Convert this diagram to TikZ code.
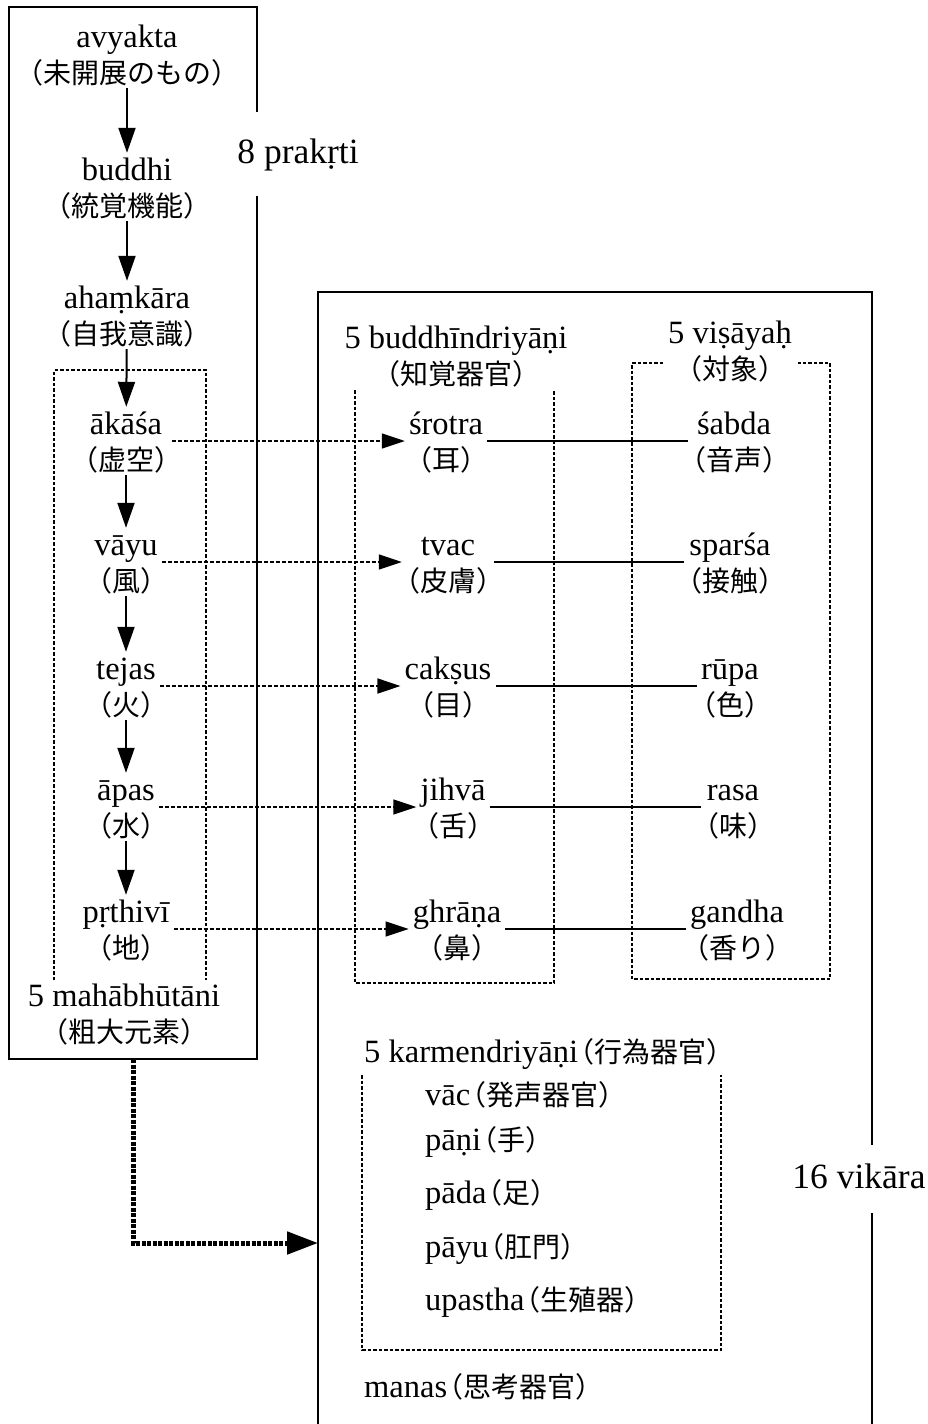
\documentclass[tikz,border=0pt]{standalone}
\usepackage{fontspec}
\setmainfont{Liberation Serif}
\newfontfamily\jp{Noto Sans CJK JP}[RawFeature=+halt]
\usetikzlibrary{arrows.meta}

% Latin text size, Japanese gloss size, and struts that fix the node heights
\newcommand\lat{\fontsize{32.5}{36}\selectfont}
\newcommand\jpx[1]{{\jp\fontsize{28}{36}\selectfont\rule[-4pt]{0pt}{4pt}#1}}
% gloss written straight after a Latin word, on the same line
\newcommand\jpafter[1]{\kern2pt\jpx{#1}}
\newcommand\lstrut{\rule{0pt}{26pt}}

\tikzset{
  frame/.style={line width=1.8pt},
  dotbox/.style={line width=1.3pt, dash pattern=on 3.5pt off 2pt},
  flow/.style={line width=2pt, -{Triangle[length=25pt,width=17pt]}},
  senseline/.style={line width=1.4pt, dash pattern=on 4pt off 2pt,
    -{Triangle[length=23pt,width=15pt]}},
  pairline/.style={line width=1.8pt},
  bigflow/.style={line width=5pt, dash pattern=on 4pt off 1.5pt,
    -{Triangle[length=31pt,width=22pt]}},
  item/.style={align=center, inner xsep=4pt, inner ysep=1pt, font=\lat},
  entry/.style={anchor=base west, inner sep=0pt, font=\lat},
  biglabel/.style={anchor=base, inner sep=0pt, font=\fontsize{35.5}{40}\selectfont},
}

\begin{document}
\begin{tikzpicture}[x=1pt,y=-1pt]
\useasboundingbox (0,0) rectangle (928,1424);

% ---- outer frames ----
\draw[frame] (257,112) -- (257,7) -- (9,7) -- (9,1059) -- (257,1059) -- (257,196);
\draw[frame] (318,1424) -- (318,292) -- (872,292) -- (872,1145);
\draw[frame] (872,1213) -- (872,1424);
\node[biglabel] (prakrti) at (298,163) {8 prakṛti};
\node[biglabel] (vikara) at (859,1188) {16 vikāra};

% ---- dotted groups ----
\draw[dotbox] (54,980) -- (54,370) -- (206,370) -- (206,980);
\draw[dotbox] (355,390) -- (355,983) -- (554,983) -- (554,390);
\draw[dotbox] (663,363) -- (632,363) -- (632,979) -- (830,979) -- (830,363) -- (798,363);
\draw[dotbox] (362,1075) -- (362,1350) -- (721,1350) -- (721,1075);

% ---- evolution chain ----
\node[item] (avyakta)  at (127,54)  {\lstrut avyakta\\\jpx{（未開展のもの）}};
\node[item] (buddhi)   at (127,187) {\lstrut buddhi\\\jpx{（統覚機能）}};
\node[item] (ahamkara) at (127,315) {\lstrut ahaṃkāra\\\jpx{（自我意識）}};
\node[item] (akasa)    at (126,441) {\lstrut ākāśa\\\jpx{（虚空）}};
\node[item] (vayu)     at (126,562) {\lstrut vāyu\\\jpx{（風）}};
\node[item] (tejas)    at (126,686) {\lstrut tejas\\\jpx{（火）}};
\node[item] (apas)     at (126,807) {\lstrut āpas\\\jpx{（水）}};
\node[item] (prthivi)  at (126,929) {\lstrut pṛthivī\\\jpx{（地）}};
\node[item] (bhuta)    at (124,1015) {5 mahābhūtāni\\\jpx{（粗大元素）}};

\draw[flow] (avyakta) -- (buddhi);
\draw[flow] (buddhi) -- (ahamkara);
\draw[flow] (ahamkara) -- (akasa);
\draw[flow] (akasa) -- (vayu);
\draw[flow] (vayu) -- (tejas);
\draw[flow] (tejas) -- (apas);
\draw[flow] (apas) -- (prthivi);

% ---- sense organs and their objects ----
\node[item] (indriya) at (456,357) {5 buddhīndriyāṇi\\\jpx{（知覚器官）}};
\node[item] (visaya)  at (730,352) {5 viṣāyaḥ\\\jpx{（対象）}};

\node[item] (srotra) at (446,441) {\lstrut śrotra\\\jpx{（耳）}};
\node[item] (tvac)   at (448,562) {\lstrut tvac\\\jpx{（皮膚）}};
\node[item] (caksus) at (448,686) {\lstrut cakṣus\\\jpx{（目）}};
\node[item] (jihva)  at (453,807) {\lstrut jihvā\\\jpx{（舌）}};
\node[item] (ghrana) at (457,929) {\lstrut ghrāṇa\\\jpx{（鼻）}};

\node[item] (sabda)  at (734,441) {\lstrut śabda\\\jpx{（音声）}};
\node[item] (sparsa) at (730,562) {\lstrut sparśa\\\jpx{（接触）}};
\node[item] (rupa)   at (730,686) {\lstrut rūpa\\\jpx{（色）}};
\node[item] (rasa)   at (733,807) {\lstrut rasa\\\jpx{（味）}};
\node[item] (gandha) at (737,929) {\lstrut gandha\\\jpx{（香り）}};

\foreach \src/\dst in {akasa/srotra, vayu/tvac, tejas/caksus, apas/jihva, prthivi/ghrana}
  \draw[senseline] (\src.east) -- (\src.east -| \dst.west);
\foreach \src/\dst in {srotra/sabda, tvac/sparsa, caksus/rupa, jihva/rasa, ghrana/gandha}
  \draw[pairline] (\src.east) -- (\src.east -| \dst.west);

% ---- organs of action and mind ----
\node[entry] (karma)   at (364,1062) {5 karmendriyāṇi\jpafter{（行為器官）}};
\node[entry] (vac)     at (425,1105) {vāc\jpafter{（発声器官）}};
\node[entry] (pani)    at (425,1150) {pāṇi\jpafter{（手）}};
\node[entry] (pada)    at (425,1203) {pāda\jpafter{（足）}};
\node[entry] (payu)    at (425,1257) {pāyu\jpafter{（肛門）}};
\node[entry] (upastha) at (425,1310) {upastha\jpafter{（生殖器）}};
\node[entry] (manas)   at (364,1397) {manas\jpafter{（思考器官）}};

% ---- the elements feed the sixteen products ----
\coordinate (bhutaout) at (133,1059);
\coordinate (vikarain) at (318,1243);
\draw[bigflow] (bhutaout) |- (vikarain);
\end{tikzpicture}
\end{document}
